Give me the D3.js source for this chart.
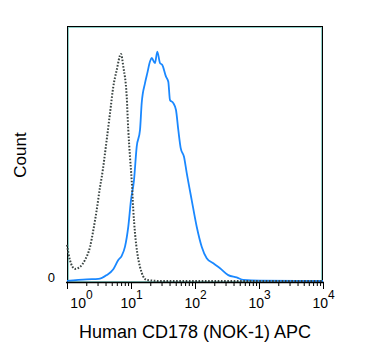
<!DOCTYPE html>
<html>
<head>
<meta charset="utf-8">
<script src="https://cdn.jsdelivr.net/npm/d3@7"></script>
<style>
  body { margin: 0; background: #fff; }
  svg { display: block; font-family: "Liberation Sans", Arial, sans-serif; }
</style>
</head>
<body>
<svg id="hist" width="375" height="363"></svg>
<script>
// fluorescence value (APC) and count (% of axis height)
var isoX = [1.0, 1.11, 1.33, 1.6, 1.91, 2.29, 2.58, 2.91, 3.28, 3.49, 4.17, 4.7, 5.29, 5.98, 6.98, 7.58, 8.57, 9.07, 9.64, 10.25, 10.86, 11.55, 12.54, 13.83, 15.57, 17.58, 28.4, 10000];
var isoY = [14.5, 8.6, 5.1, 5.9, 8.6, 13.7, 20.3, 28.1, 37.1, 41.0, 55.5, 66.0, 76.3, 82.8, 89.1, 84.1, 72.4, 59.4, 48.9, 39.8, 28.1, 19.1, 11.3, 5.9, 2.1, 0.8, 0.4, 0.4];

var cdX = [1.0, 2.03, 3.08, 4.17, 5.29, 6.33, 7.16, 8.06, 9.07, 10.0, 11.14, 12.28, 13.83, 14.69, 16.55, 17.98, 19.81, 21.05, 23.71, 25.76, 28.39, 30.83, 35.23, 38.27, 40.66, 45.81, 50.47, 54.83, 59.79, 67.3, 74.2, 88.8, 106.4, 127.3, 152.4, 193.3, 246, 331, 448, 569, 1037, 10000];
var cdY = [0.4, 1.05, 1.2, 2.7, 5.0, 8.6, 10.2, 13.8, 21.6, 32.0, 39.8, 52.9, 59.4, 69.9, 77.7, 81.6, 86.1, 87.5, 85.5, 90.0, 85.5, 84.8, 80.2, 78.2, 71.1, 69.9, 67.2, 59.4, 52.3, 48.9, 42.6, 32.0, 21.6, 13.8, 9.3, 7.3, 5.4, 2.7, 1.8, 0.8, 0.5, 0.4];

var majorTicks = [1, 10, 100, 1000, 10000];
var xTitle = "Human CD178 (NOK-1) APC";
var yTitle = "Count";

var svg = d3.select("#hist"),
    margin = { top: 26, right: 52, bottom: 81, left: 67 },
    width = +svg.attr("width") - margin.left - margin.right,
    height = +svg.attr("height") - margin.top - margin.bottom,
    g = svg.append("g").attr("transform", "translate(" + margin.left + "," + margin.top + ")");

var x = d3.scaleLog().domain([1, 10000]).range([0, width]);
var y = d3.scaleLinear().domain([0, 100]).range([height, 0]);

// frame: black outline with a thin teal line inside
g.append("rect")
    .attr("x", 1.5).attr("y", 1.5)
    .attr("width", width - 3).attr("height", height - 2)
    .attr("fill", "none")
    .attr("stroke", "#8fd0c8");
g.append("rect")
    .attr("x", 0.5).attr("y", 0.5)
    .attr("width", width - 1).attr("height", height)
    .attr("fill", "none")
    .attr("stroke", "#000");

var line = d3.line()
    .x(function (d) { return x(d[0]); })
    .y(function (d) { return y(d[1]); })
    .curve(d3.curveMonotoneX);

g.append("path")
    .datum(cdX.map(function (v, i) { return [v, cdY[i]]; }))
    .attr("fill", "none")
    .attr("stroke", "#1a88ff")
    .attr("stroke-width", 1.8)
    .attr("d", line);

g.append("path")
    .datum(isoX.map(function (v, i) { return [v, isoY[i]]; }))
    .attr("fill", "none")
    .attr("stroke", "#3a4442")
    .attr("stroke-width", 2)
    .attr("stroke-dasharray", "1.6,1.6")
    .attr("d", line);

// x axis: minor ticks
var minor = [];
for (var p = 0; p < 4; p++) {
    for (var k = 2; k <= 9; k++) minor.push(k * Math.pow(10, p));
}
g.append("g")
    .attr("transform", "translate(0," + height + ")")
    .call(d3.axisBottom(x).tickValues(minor).tickSize(4).tickFormat(""))
    .call(function (a) { a.select(".domain").remove(); });

var xAxis = g.append("g")
    .attr("transform", "translate(0," + height + ")")
    .call(d3.axisBottom(x).tickValues(majorTicks).tickSize(7).tickPadding(9).tickFormat(""));
xAxis.select(".domain").attr("d", "M-1,0.5H" + (width + 1)).attr("stroke", "#000").attr("stroke-width", 1.5);
xAxis.selectAll(".tick line").attr("stroke", "#000");

xAxis.selectAll(".tick").each(function (d, i) {
    var t = d3.select(this).append("text")
        .attr("fill", "#000")
        .attr("y", 26)
        .attr("x", i === 0 ? 14 : 0)
        .attr("text-anchor", "middle")
        .attr("font-size", 14);
    t.append("tspan").text("10");
    t.append("tspan")
        .attr("dy", -9)
        .attr("font-size", 12)
        .text(Math.round(Math.log10(d)));
});

// y axis: only zero label
var yAxis = g.append("g")
    .call(d3.axisLeft(y).tickValues([0]).tickSize(0).tickPadding(12))
    .call(function (a) { a.select(".domain").remove(); });
yAxis.selectAll(".tick text")
    .attr("fill", "#000")
    .attr("font-size", 13)
    .attr("dy", "-0.05em")
    .attr("font-family", "Liberation Sans, Arial, sans-serif");

svg.append("text")
    .attr("x", margin.left + 128)
    .attr("y", 338)
    .attr("text-anchor", "middle")
    .attr("font-size", 18)
    .text(xTitle);

svg.append("text")
    .attr("transform", "translate(26,155) rotate(-90)")
    .attr("text-anchor", "middle")
    .attr("font-size", 17)
    .text(yTitle);
</script>
</body>
</html>
